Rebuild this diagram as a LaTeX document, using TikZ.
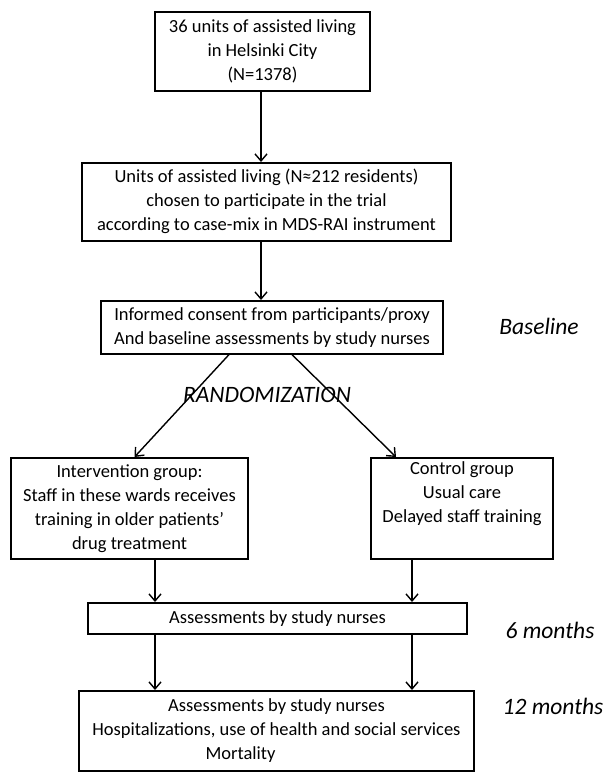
\documentclass[tikz,border=0pt]{standalone}
\usepackage{fontspec}
\setmainfont{Carlito}
\usetikzlibrary{arrows.meta, positioning, calc}

\tikzset{
  box/.style={draw, line width=1.6pt, anchor=north, align=center, inner sep=2pt,
    font=\fontsize{18.5}{24}\selectfont},
  arr/.style={line width=1.4pt, -{Straight Barb[length=7pt,width=12pt]}},
  phase/.style={font=\fontsize{23.5}{26}\selectfont\itshape}
}

\begin{document}
\begin{tikzpicture}[x=1pt,y=-1pt]
\useasboundingbox (0,0) rectangle (611,781);
\node[box, minimum width=215, minimum height=79] (units) at (262.5,11)
  {36 units of assisted living\\ in Helsinki City\\ (N=1378)};
\node[box, minimum width=369, minimum height=78] (chosen) at (266.5,162)
  {Units of assisted living (N≈212 residents)\\ chosen to participate in the trial\\ according to case-mix in MDS-RAI instrument};
\node[box, minimum width=342, minimum height=53] (consent) at (272,300)
  {Informed consent from participants/proxy\\ And baseline assessments by study nurses};
\node[box, minimum width=237, minimum height=101] (interv) at (129.5,457)
  {Intervention group:\\ Staff in these wards receives\\ training in older patients’\\ drug treatment};
\node[box, minimum width=182, minimum height=101, text depth=32pt] (control) at (462,457)
  {Control group\\ Usual care\\ Delayed staff training};
\node[box, minimum width=379, minimum height=31] (six) at (277.5,602)
  {Assessments by study nurses};
\node[box, minimum width=395, minimum height=80] (twelve) at (276.5,690)
  {Assessments by study nurses\\ Hospitalizations, use of health and social services\\ Mortality\hspace*{72pt}};

\node[phase] (base) at (539,326) {Baseline};
\node[phase] (rand) at (267,395) {RANDOMIZATION};
\node[phase] (m6) at (550,630) {6 months};
\node[phase] (m12) at (553,706) {12 months};

\draw[arr] (units.south -| 261,0) -- (chosen.north -| 261,0);
\draw[arr] (chosen.south -| 261,0) -- (consent.north -| 261,0);
\draw[arr] ([xshift=-43pt]consent.south) -- ([xshift=5pt]interv.north);
\draw[arr] ([xshift=20pt]consent.south) -- ([xshift=-66pt]control.north);
\draw[arr] (interv.south -| 155,0) -- (six.north -| 155,0);
\draw[arr] (control.south -| 412,0) -- (six.north -| 412,0);
\draw[arr] (six.south -| 155,0) -- (twelve.north -| 155,0);
\draw[arr] (six.south -| 412,0) -- (twelve.north -| 412,0);
\end{tikzpicture}
\end{document}
